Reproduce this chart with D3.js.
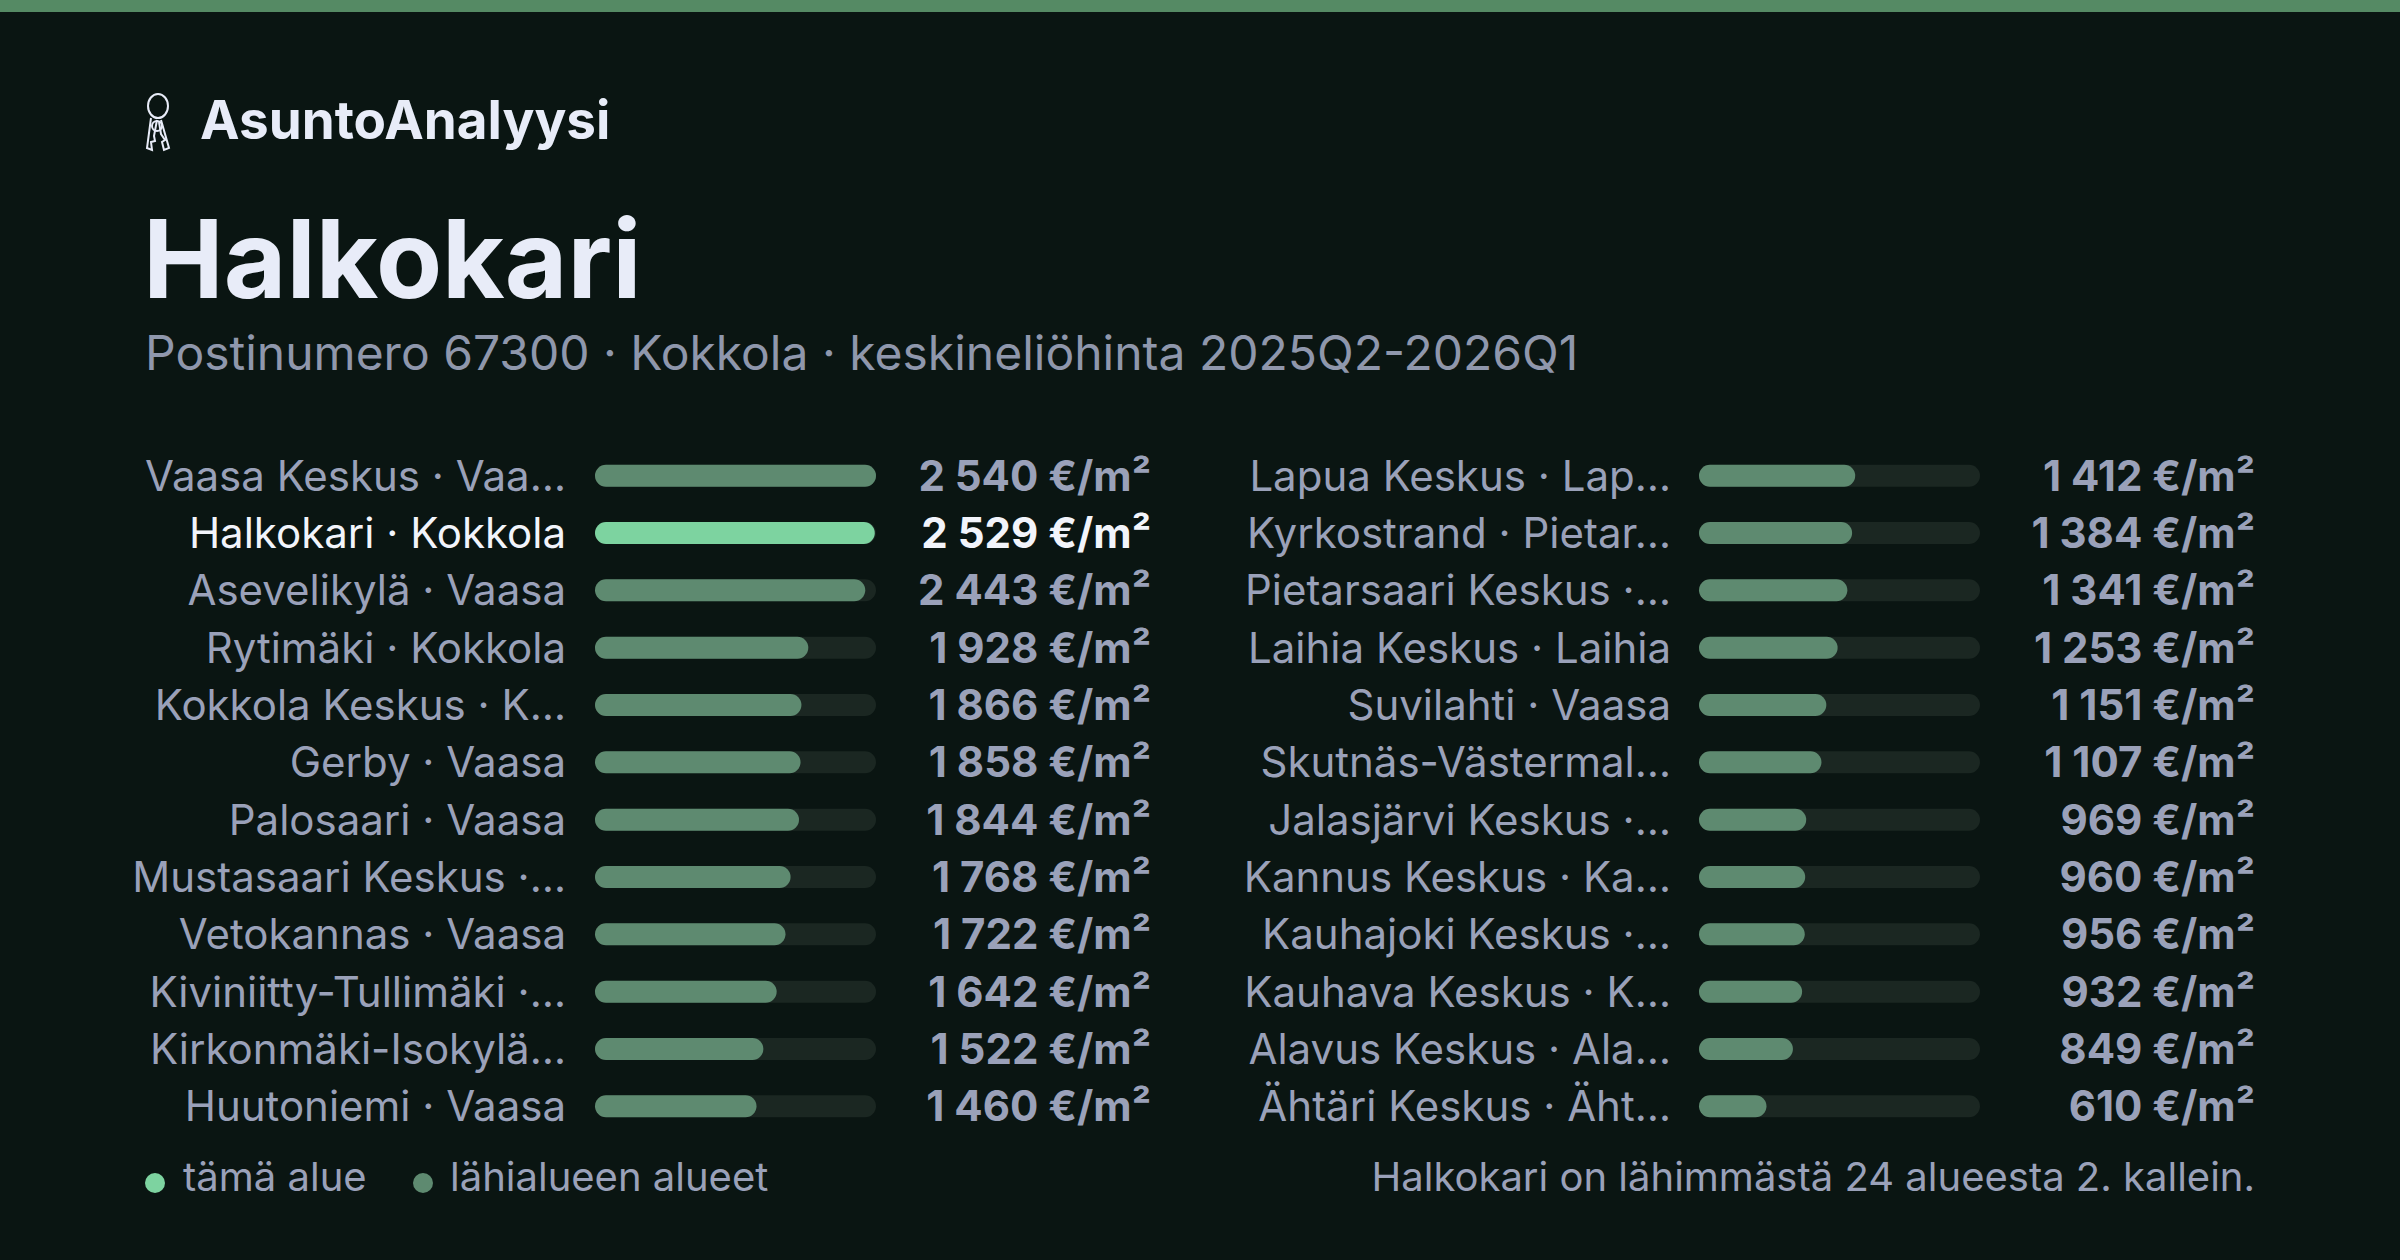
<!DOCTYPE html>
<html><head><meta charset="utf-8">
<script src="https://cdn.jsdelivr.net/npm/d3@7"></script>
<style>
body{margin:0;background:#0a1512;}
text{font-family:Inter,"Noto Sans",sans-serif;}
</style></head><body>
<svg id="chart" width="2400" height="1260"></svg>
<script>
// data
const leftNames = ["Vaasa Keskus · Vaa…","Halkokari · Kokkola","Asevelikylä · Vaasa","Rytimäki · Kokkola","Kokkola Keskus · K…","Gerby · Vaasa","Palosaari · Vaasa","Mustasaari Keskus ·…","Vetokannas · Vaasa","Kiviniitty-Tullimäki ·…","Kirkonmäki-Isokylä…","Huutoniemi · Vaasa"];
const leftValues = [2540,2529,2443,1928,1866,1858,1844,1768,1722,1642,1522,1460];
const rightNames = ["Lapua Keskus · Lap…","Kyrkostrand · Pietar…","Pietarsaari Keskus ·…","Laihia Keskus · Laihia","Suvilahti · Vaasa","Skutnäs-Västermal…","Jalasjärvi Keskus ·…","Kannus Keskus · Ka…","Kauhajoki Keskus ·…","Kauhava Keskus · K…","Alavus Keskus · Ala…","Ähtäri Keskus · Äht…"];
const rightValues = [1412,1384,1341,1253,1151,1107,969,960,956,932,849,610];
const highlight = "Halkokari · Kokkola";

const svg = d3.select("#chart");
svg.append("rect").attr("width",2400).attr("height",1260).attr("fill","#0a1512");
svg.append("rect").attr("width",2400).attr("height",12).attr("fill","#558a64");

// logo keys
const logo = svg.append("g").attr("transform","translate(143,92)")
  .attr("fill","none").attr("stroke","#e8ecf8").attr("stroke-width",2);
logo.append("ellipse").attr("cx",15).attr("cy",14).attr("rx",10).attr("ry",12);
logo.append("path").attr("d","M8,26 L4,56 L9,58 L8,50 L12,49 L11,44 L14,28");
logo.append("path").attr("d","M18,28 L26,56 L21,58 L19,50 L22,48 L18,42 L16,30");
logo.append("circle").attr("cx",14).attr("cy",34).attr("r",5);

svg.append("text").attr("x",200).attr("y",139).attr("font-size",53).attr("font-weight",700)
  .attr("fill","#e8ecf8").text("AsuntoAnalyysi");
svg.append("text").attr("x",143).attr("y",298).attr("font-size",108).attr("font-weight",700)
  .attr("fill","#e8ecf8").text("Halkokari");
svg.append("text").attr("x",145).attr("y",370).attr("font-size",48)
  .attr("fill","#8f97ac").text("Postinumero 67300 · Kokkola · keskineliöhinta 2025Q2-2026Q1");

const fmt = v => d3.format(",")(v).replace(/,/g," ") + " €/m²";
const maxV = d3.max(leftValues.concat(rightValues));
const y = d3.scaleBand().domain(d3.range(12)).range([447,1135]).paddingInner(0);

function column(names, values, labelX, trackX, valueX) {
  const x = d3.scaleLinear().domain([0,maxV]).range([0,281]);
  const g = svg.append("g");
  const rows = g.selectAll("g.row").data(names.map((n,i)=>({n,v:values[i],i})))
    .join("g").attr("class","row")
    .attr("transform",d=>`translate(0,${y(d.i)+y.bandwidth()/2})`);
  rows.append("text").attr("x",labelX).attr("y",15).attr("text-anchor","end")
    .attr("font-size",42).attr("fill",d=>d.n===highlight?"#f2f4fb":"#9aa1b9").text(d=>d.n);
  rows.append("rect").attr("x",trackX).attr("y",-11).attr("width",x(maxV)).attr("height",22)
    .attr("rx",11).attr("fill","#1b2722");
  rows.append("rect").attr("x",trackX).attr("y",-11).attr("width",d=>x(d.v)).attr("height",22)
    .attr("rx",11).attr("fill",d=>d.n===highlight?"#7dd3a0":"#5e8a70");
  rows.append("text").attr("x",valueX).attr("y",15).attr("text-anchor","end")
    .attr("font-size",42).attr("font-weight",700)
    .attr("fill",d=>d.n===highlight?"#f2f4fb":"#9aa1b9").text(d=>fmt(d.v));
}
column(leftNames,leftValues,566,595,1151);
column(rightNames,rightValues,1671,1699,2255);

// legend
svg.append("circle").attr("cx",155).attr("cy",1183).attr("r",10).attr("fill","#7dd3a0");
svg.append("text").attr("x",183).attr("y",1191).attr("font-size",40).attr("fill","#9aa1b9").text("tämä alue");
svg.append("circle").attr("cx",423).attr("cy",1183).attr("r",10).attr("fill","#5e8a70");
svg.append("text").attr("x",450).attr("y",1191).attr("font-size",40).attr("fill","#9aa1b9").text("lähialueen alueet");
svg.append("text").attr("x",2255).attr("y",1191).attr("text-anchor","end").attr("font-size",40)
  .attr("fill","#9aa1b9").text("Halkokari on lähimmästä 24 alueesta 2. kallein.");
</script></body></html>
